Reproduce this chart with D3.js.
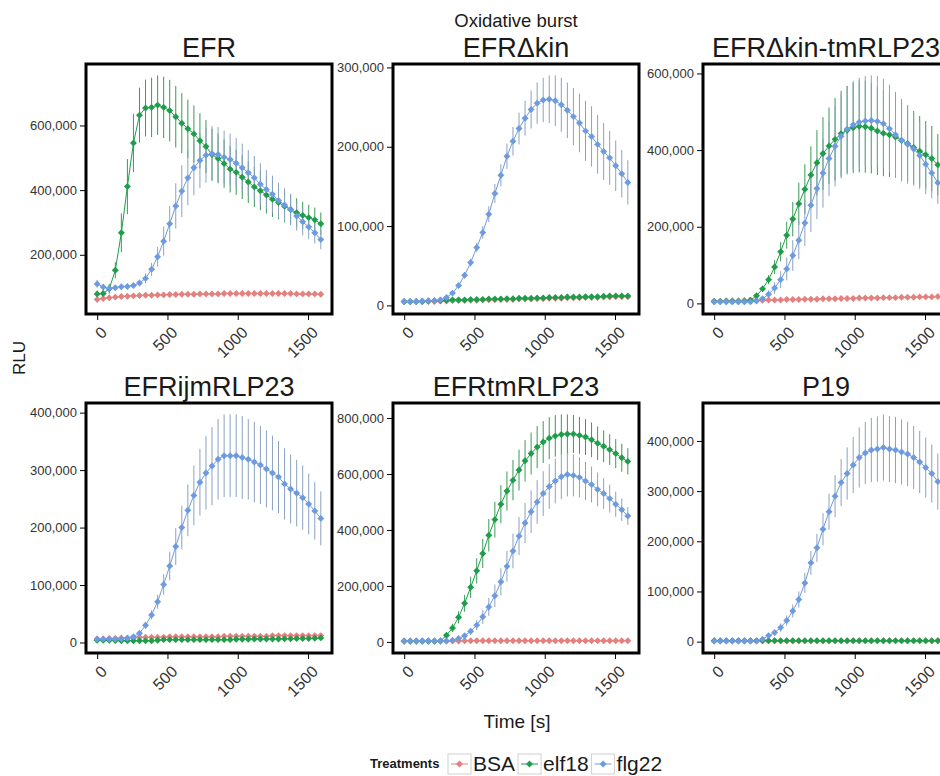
<!DOCTYPE html>
<html>
<head>
<meta charset="utf-8">
<script src="https://cdn.jsdelivr.net/npm/d3@7"></script>
<style>
  body { margin: 0; background: #fff; }
  svg text { font-family: "Liberation Sans", Arial, sans-serif; }
</style>
</head>
<body>
<div id="chart"></div>
<script>
'use strict'

// sampling times (s)
const time = [0, 43, 86, 129, 172, 215, 258, 301, 344, 387, 430, 473, 516, 559, 602, 645, 688, 731, 774, 817,
  860, 903, 946, 989, 1032, 1075, 1118, 1161, 1204, 1247, 1290, 1333, 1376, 1419, 1462, 1505, 1548, 1591]

const treatments = ['BSA', 'elf18', 'flg22']
const genotypes = ['EFR', 'EFR\u0394kin', 'EFR\u0394kin-tmRLP23', 'EFRijmRLP23', 'EFRtmRLP23', 'P19']
const xTicks = [0, 500, 1000, 1500]

// all values in thousands of RLU (mean and error)
const efr_bsa = [62,65,67,69,71,72,73,74,75,75,76,76,77,77,78,78,78,79,79,79,79,80,80,80,80,80,80,80,80,80,80,80,80,79,79,79,79,78]
const efr_bsa_se = [10,8,8,8,8,8,8,8,8,8,8,8,8,8,8,8,8,8,8,8,8,8,8,8,8,8,8,8,8,8,8,8,8,8,8,8,8,8]
const efr_elf18 = [79,80,95,152,268,411,546,632,654,656,663,656,646,627,607,590,574,553,535,510,498,482,465,455,440,425,410,398,385,372,362,350,340,330,322,315,308,296]
const efr_elf18_se = [10,10,15,25,60,85,90,85,88,92,92,95,95,95,93,90,88,85,82,80,77,75,72,70,68,65,62,60,57,55,52,50,47,45,42,40,38,35]
const efr_flg22 = [110,100,96,98,101,102,105,113,127,155,194,242,296,351,397,438,469,492,508,513,510,502,495,483,469,454,438,418,402,387,368,354,340,320,302,286,268,247]
const efr_flg22_se = [12,10,8,8,8,8,8,10,15,20,30,45,55,70,80,85,85,85,85,85,85,82,80,78,75,70,68,65,60,58,55,52,48,45,42,38,33,30]

const dkin_bsa = [4.5,4.5,4.5,5,5,5,5.5,5.5,6,6,6,6.5,6.5,7,7,7,7.5,7.5,7.5,8,8,8,8.5,8.5,9,9,9,9.5,9.5,9.5,10,10,10,10.5,10.5,11,11,11]
const dkin_bsa_se = [1,1,1,1,1,1,1,1,1,1,1,1,1,1,1,1,1,1,1,1,1,1,1,1,1,1,1,1,1,1,1,1,1,1,1,1,1,1]
const dkin_elf18 = [5,5,5,5,5.5,6,6,6.5,7,7,7,7.5,7.5,7.5,8,8,8,8.5,8.5,9,9,9,9.5,9.5,10,10,10,10.5,10.5,10.5,11,11,11,11.5,12,12,12,12]
const dkin_elf18_se = [1.5,1.5,1.5,1.5,1.5,1.5,1.5,1.5,1.5,1.5,1.5,1.5,1.5,1.5,1.5,1.5,1.5,1.5,1.5,1.5,1.5,1.5,1.5,1.5,1.5,1.5,1.5,1.5,1.5,1.5,1.5,1.5,1.5,1.5,1.5,1.5,1.5,1.5]
const dkin_flg22 = [5,5,5,5.5,6,6,7,10,15.5,25,38,54,73,92,115,141,164,188,207,223,236,247,255,259,260,258,253,246,238,230,220,213,203,194,186,176,166,155]
const dkin_flg22_se = [1,1,1,1,1,1,1.5,2,2,3,4,5,6,8,10,12,14,16,18,20,22,24,26,28,30,32,34,35,36,37,38,38,37,36,34,32,30,28]

const dkintm_bsa = [6,6,7,7,7,8,8,8,8,9,9,9,10,10,10,11,11,11,12,12,12,13,13,13,14,14,14,14,15,15,15,16,16,16,17,17,17,18]
const dkintm_bsa_se = [2,2,2,2,2,2,2,2,2,2,2,2,2,2,2,2,2,2,2,2,2,2,2,2,2,2,2,2,2,2,2,2,2,2,2,2,2,2]
const dkintm_elf18 = [5,5,5,5,5,5,8,20,38,62,95,135,178,220,260,298,335,367,391,411,428,443,452,458,462,461,457,450,444,440,434,425,417,407,397,388,378,362]
const dkintm_elf18_se = [2,2,2,2,2,2,3,5,8,12,18,25,35,45,55,65,75,85,95,100,108,112,115,118,120,120,118,115,112,110,106,102,98,95,92,88,85,80]
const dkintm_flg22 = [4,4,4,4,4,4,4,6,12,24,40,62,90,125,165,210,256,300,340,378,410,436,455,466,473,476,477,475,469,456,440,426,415,403,386,363,340,315]
const dkintm_flg22_se = [2,2,2,2,2,2,2,2,5,10,15,22,30,40,50,60,70,80,90,98,105,110,113,115,116,117,118,118,117,115,112,108,103,96,88,78,66,55]

const ijm_bsa = [6,6,7,7,8,8,8,9,9,9,9,9,10,10,10,10,10,10,10,10,10,11,11,11,11,11,11,11,11,12,12,12,12,12,12,12,12,12]
const ijm_bsa_se = [2,2,2,2,2,2,2,2,2,2,2,2,2,2,2,2,2,2,2,2,2,2,2,2,2,2,2,2,2,2,2,2,2,2,2,2,2,2]
const ijm_elf18 = [4,4,4,3.5,3,3,3,3,3,3,4,5,5,5,5,5,5,5,5,5,5,5,5,5.5,5.5,5.5,6,6,6,6,6,6.5,6.5,7,7,7,7.5,8]
const ijm_elf18_se = [1.5,1.5,1.5,1.5,1.5,1.5,1.5,1.5,1.5,1.5,1.5,1.5,1.5,1.5,1.5,1.5,1.5,1.5,1.5,1.5,1.5,1.5,1.5,1.5,1.5,1.5,1.5,1.5,1.5,1.5,1.5,1.5,1.5,1.5,1.5,1.5,1.5,1.5]
const ijm_flg22 = [6,6,6,6,6,7.5,10,16,30,48,71,101,133,167,200,230,256,279,295,307,319,325,325,325,322,319,314,309,302,295,288,276,267,260,252,241,229,216]
const ijm_flg22_se = [2,2,2,2,2,2,2,4,6,8,12,18,25,32,38,45,52,58,64,68,70,72,72,72,72,70,70,68,67,65,63,62,60,58,56,53,50,47]

const tm_bsa = [3,3,3,3,3,3,3,3,3.5,3.5,4,4,4,4,4,4,4,4,4,4,4,4,4,4,4,4,4,4,4,4,4,4,4,4,4,4,4,4]
const tm_bsa_se = [1.5,1.5,1.5,1.5,1.5,1.5,1.5,1.5,1.5,1.5,1.5,1.5,1.5,1.5,1.5,1.5,1.5,1.5,1.5,1.5,1.5,1.5,1.5,1.5,1.5,1.5,1.5,1.5,1.5,1.5,1.5,1.5,1.5,1.5,1.5,1.5,1.5,1.5]
const tm_elf18 = [2.5,2.5,2.5,2.5,2.5,2.5,3,24,50,88,138,195,254,316,381,437,492,539,578,614,647,673,696,714,728,736,741,743,743,738,732,722,710,699,687,673,658,645]
const tm_elf18_se = [1,1,1,1,1,1,2,8,15,22,30,38,45,52,58,64,68,70,72,73,74,75,75,75,75,74,72,70,68,66,64,62,60,57,55,52,50,47]
const tm_flg22 = [3,3,3,3,3,3,3,3,6,12,22,38,60,90,125,165,215,270,325,378,425,465,500,530,555,575,590,598,595,588,575,562,545,530,512,492,472,450]
const tm_flg22_se = [1,1,1,1,1,1,1,1,3,5,8,12,18,25,32,40,48,55,62,68,72,76,78,80,80,80,80,78,75,72,68,64,60,55,50,45,40,32]

const p19_bsa = [1.5,1.5,1.5,1.5,1.5,1.5,1.5,1.5,1.5,1.5,1.5,1.5,1.5,1.5,1.5,1.5,1.5,1.5,1.5,1.5,1.5,1.5,1.5,1.5,1.5,1.5,1.5,1.5,1.5,1.5,1.5,1.5,1.5,1.5,1.5,1.5,1.5,1.5]
const p19_bsa_se = [1,1,1,1,1,1,1,1,1,1,1,1,1,1,1,1,1,1,1,1,1,1,1,1,1,1,1,1,1,1,1,1,1,1,1,1,1,1]
const p19_elf18 = [2,2,2,2,2,2,2,2,2,2,2,2,2,2,2,2,2,2,2,2,2,2,2,2,2,2,2,2,2,2,2,2,2,2,2,2,2,2]
const p19_elf18_se = [1,1,1,1,1,1,1,1,1,1,1,1,1,1,1,1,1,1,1,1,1,1,1,1,1,1,1,1,1,1,1,1,1,1,1,1,1,1]
const p19_flg22 = [1,1,1,1,1,1,1,1,5,12,18,28,42,61,84,117,157,187,224,259,290,317,335,352,367,376,382,384,387,384,382,378,374,367,358,347,335,319]
const p19_flg22_se = [1,1,1,1,1,1,1,1,2,4,6,8,10,13,16,20,24,28,32,36,42,47,52,56,60,62,64,65,66,66,66,65,64,63,62,60,58,56]

// y tick values per panel
const efr_yticks = [200000, 400000, 600000]
const dkin_yticks = [0, 100000, 200000, 300000]
const dkintm_yticks = [0, 200000, 400000, 600000]
const ijm_yticks = [0, 100000, 200000, 300000, 400000]
const tm_yticks = [0, 200000, 400000, 600000, 800000]
const p19_yticks = [0, 100000, 200000, 300000, 400000]

const panels = [
  { name: genotypes[0], mean: [efr_bsa, efr_elf18, efr_flg22], se: [efr_bsa_se, efr_elf18_se, efr_flg22_se], yTicks: efr_yticks },
  { name: genotypes[1], mean: [dkin_bsa, dkin_elf18, dkin_flg22], se: [dkin_bsa_se, dkin_elf18_se, dkin_flg22_se], yTicks: dkin_yticks },
  { name: genotypes[2], mean: [dkintm_bsa, dkintm_elf18, dkintm_flg22], se: [dkintm_bsa_se, dkintm_elf18_se, dkintm_flg22_se], yTicks: dkintm_yticks },
  { name: genotypes[3], mean: [ijm_bsa, ijm_elf18, ijm_flg22], se: [ijm_bsa_se, ijm_elf18_se, ijm_flg22_se], yTicks: ijm_yticks },
  { name: genotypes[4], mean: [tm_bsa, tm_elf18, tm_flg22], se: [tm_bsa_se, tm_elf18_se, tm_flg22_se], yTicks: tm_yticks },
  { name: genotypes[5], mean: [p19_bsa, p19_elf18, p19_flg22], se: [p19_bsa_se, p19_elf18_se, p19_flg22_se], yTicks: p19_yticks }
]

const color = d3.scaleOrdinal().domain(treatments).range(['#E3817F', '#1F9D4A', '#6E9BDF'])
const errColor = d3.scaleOrdinal().domain(treatments).range(['#E3817F', '#3A9A55', '#8BA2BF'])

// layout
const svgWidth = 940, svgHeight = 776
const panelW = 246, panelH = 250
const colX = [86, 393, 703]
const rowY = [64, 403]

const svg = d3.select('#chart').append('svg')
  .attr('width', svgWidth)
  .attr('height', svgHeight)

svg.append('rect').attr('width', svgWidth).attr('height', svgHeight).attr('fill', '#fff')

// x scale shared (ggplot style 5% expansion)
const xExt = d3.extent(time)
const xPad = (xExt[1] - xExt[0]) * 0.05
const xScale = d3.scaleLinear().domain([xExt[0] - xPad, xExt[1] + xPad]).range([0, panelW])

const diamond = d3.symbol().type(d3.symbolSquare).size(24)

panels.forEach(function (p, k) {
  const g = svg.append('g')
    .attr('transform', `translate(${colX[k % 3]},${rowY[Math.floor(k / 3)]})`)

  const series = treatments.map(function (t, j) {
    return {
      t: t,
      values: time.map((s, i) => ({ s: s, m: p.mean[j][i] * 1000, e: p.se[j][i] * 1000 }))
    }
  })

  const lo = d3.min(series, d => d3.min(d.values, v => v.m - v.e))
  const hi = d3.max(series, d => d3.max(d.values, v => v.m + v.e))
  const pad = (hi - lo) * 0.05
  const yScale = d3.scaleLinear().domain([lo - pad, hi + pad]).range([panelH, 0])

  // error bars
  series.forEach(function (sr) {
    g.append('g').selectAll('line')
      .data(sr.values)
      .join('line')
      .attr('x1', d => xScale(d.s))
      .attr('x2', d => xScale(d.s))
      .attr('y1', d => yScale(d.m - d.e))
      .attr('y2', d => yScale(d.m + d.e))
      .attr('stroke', errColor(sr.t))
      .attr('stroke-width', 1)
  })

  const line = d3.line().x(d => xScale(d.s)).y(d => yScale(d.m))

  series.forEach(function (sr) {
    g.append('path')
      .datum(sr.values)
      .attr('d', line)
      .attr('fill', 'none')
      .attr('stroke', color(sr.t))
      .attr('stroke-width', 1)

    g.append('g').selectAll('path')
      .data(sr.values)
      .join('path')
      .attr('d', diamond)
      .attr('transform', d => `translate(${xScale(d.s)},${yScale(d.m)}) rotate(45)`)
      .attr('fill', color(sr.t))
  })

  // y axis
  const yAxis = g.append('g')
    .call(d3.axisLeft(yScale).tickValues(p.yTicks).tickSize(6).tickPadding(3).tickFormat(d3.format(',')))
  yAxis.select('.domain').remove()
  yAxis.selectAll('line').attr('stroke', '#000')
  yAxis.selectAll('text').attr('fill', '#333').style('font-size', '13px')

  // x axis
  const xAxis = g.append('g')
    .attr('transform', `translate(0,${panelH})`)
    .call(d3.axisBottom(xScale).tickValues(xTicks).tickSize(6).tickFormat(d3.format('d')))
  xAxis.select('.domain').remove()
  xAxis.selectAll('line').attr('stroke', '#000')
  xAxis.selectAll('text')
    .attr('x', 0)
    .attr('y', 0)
    .attr('dy', '0.75em')
    .attr('transform', 'translate(2,11) rotate(-45)')
    .style('text-anchor', 'end')
    .attr('fill', '#333')
    .style('font-size', '16px')

  // panel border
  g.append('rect')
    .attr('width', panelW)
    .attr('height', panelH)
    .attr('fill', 'none')
    .attr('stroke', '#000')
    .attr('stroke-width', 3)

  // strip title
  g.append('text')
    .attr('x', panelW / 2)
    .attr('y', -7)
    .attr('text-anchor', 'middle')
    .style('font-size', '27px')
    .attr('fill', '#1a1a1a')
    .text(p.name)
})

// titles
svg.append('text')
  .attr('x', 516).attr('y', 27)
  .attr('text-anchor', 'middle')
  .style('font-size', '18.5px')
  .attr('fill', '#1a1a1a')
  .text('Oxidative burst')

svg.append('text')
  .attr('transform', 'translate(25,358) rotate(-90)')
  .attr('text-anchor', 'middle')
  .style('font-size', '17px')
  .attr('fill', '#1a1a1a')
  .text('RLU')

svg.append('text')
  .attr('x', 517).attr('y', 728)
  .attr('text-anchor', 'middle')
  .style('font-size', '19px')
  .attr('fill', '#1a1a1a')
  .text('Time [s]')

// legend
const legend = svg.append('g').attr('transform', 'translate(0,754)')
legend.append('text')
  .attr('x', 370).attr('y', 14)
  .style('font-size', '13px')
  .style('font-weight', 'bold')
  .attr('fill', '#1a1a1a')
  .text('Treatments')

let kx = 448
treatments.forEach(function (t) {
  const key = legend.append('g').attr('transform', `translate(${kx},0)`)
  key.append('rect')
    .attr('width', 23).attr('height', 20)
    .attr('fill', '#fff')
    .attr('stroke', '#d0d0d0')
  key.append('line')
    .attr('x1', 3).attr('x2', 20)
    .attr('y1', 10).attr('y2', 10)
    .attr('stroke', color(t))
  key.append('path')
    .attr('d', diamond)
    .attr('transform', 'translate(11.5,10) rotate(45)')
    .attr('fill', color(t))
  const label = legend.append('text')
    .attr('x', kx + 25).attr('y', 17)
    .style('font-size', '21px')
    .attr('fill', '#1a1a1a')
    .text(t)
  kx += 25 + label.node().getComputedTextLength() + 3
})
</script>
</body>
</html>
